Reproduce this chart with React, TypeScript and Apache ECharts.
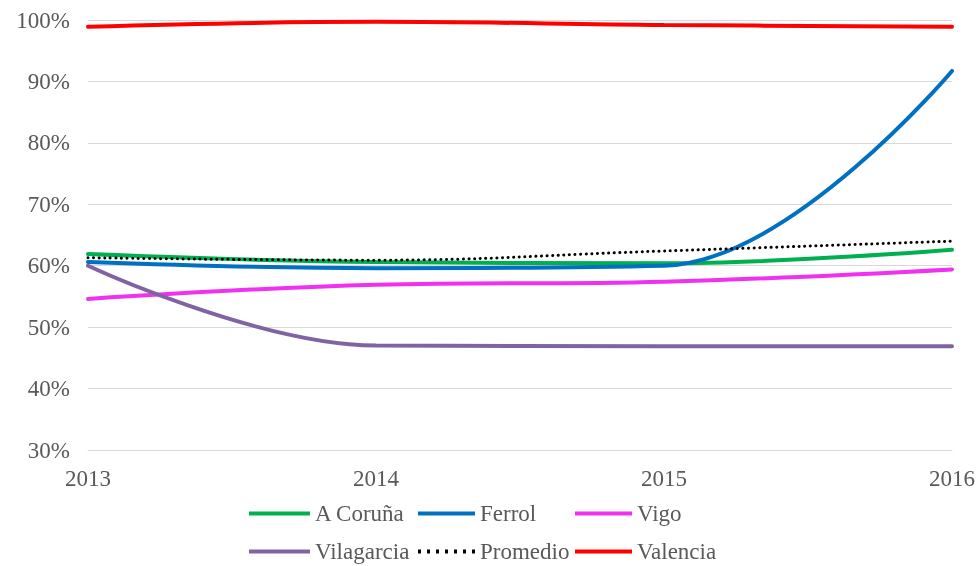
import React, { useEffect, useRef } from "react";
import * as echarts from "echarts";

const years = ["2013", "2014", "2015", "2016"];
const aCoruna = [61.9, 60.6, 60.4, 62.6];
const ferrol = [60.6, 59.6, 60.0, 91.7];
const vigo = [54.6, 56.9, 57.4, 59.4];
const vilagarcia = [60.0, 47.0, 46.9, 46.9];
const promedio = [61.3, 60.9, 62.4, 64.0];
const valencia = [98.9, 99.7, 99.2, 98.9];

const FONT = "Liberation Serif";
const DOTS = "path://M0,0h3v4h-3zM9,0h3v4h-3zM18,0h3v4h-3zM27,0h3v4h-3zM36,0h3v4h-3zM45,0h3v4h-3zM54,0h3v4h-3z";

export default function App() {
  const ref = useRef<HTMLDivElement>(null);
  useEffect(() => {
    if (!ref.current) return;
    const chart = echarts.init(ref.current, null, { renderer: "svg" });
    const mk = (name: string, data: number[], color: string, lineStyle: any = {}) => ({
      name,
      type: "line",
      data,
      smooth: 0.4,
      symbol: "none",
      lineStyle: { color, width: 4, cap: "round", ...lineStyle },
      itemStyle: { color },
    });
    const legendBase = {
      orient: "vertical",
      top: 502,
      padding: 0,
      itemWidth: 57,
      itemHeight: 4,
      itemGap: 15,
      icon: "rect",
      textStyle: { fontFamily: FONT, fontSize: 23, color: "#595959" },
    };
    chart.setOption({
      animation: false,
      textStyle: { fontFamily: FONT },
      grid: { left: 88, right: 26, top: 20, bottom: 116, containLabel: false },
      xAxis: {
        type: "category",
        data: years,
        boundaryGap: false,
        axisLine: { show: true, lineStyle: { color: "#d9d9d9" } },
        axisTick: { show: false },
        axisLabel: { fontFamily: FONT, fontSize: 23, color: "#595959", margin: 17 },
        splitLine: { show: false },
      },
      yAxis: {
        type: "value",
        min: 30,
        max: 100,
        interval: 10,
        axisLine: { show: false },
        axisTick: { show: false },
        axisLabel: {
          fontFamily: FONT,
          fontSize: 23,
          color: "#595959",
          margin: 18,
          formatter: (v: number) => v + "%",
        },
        splitLine: { lineStyle: { color: "#d9d9d9", width: 1 } },
      },
      legend: [
        { ...legendBase, left: 249, itemWidth: 61, data: ["A Coruña", "Vilagarcia"] },
        { ...legendBase, left: 418, data: ["Ferrol", { name: "Promedio", icon: DOTS }] },
        { ...legendBase, left: 575, data: ["Vigo", "Valencia"] },
      ],
      series: [
        mk("A Coruña", aCoruna, "#00B050"),
        mk("Ferrol", ferrol, "#0070C0"),
        mk("Vigo", vigo, "#F032F0"),
        mk("Vilagarcia", vilagarcia, "#8064A2"),
        mk("Promedio", promedio, "#000000", { width: 3, type: [0.1, 5.5], cap: "round" }),
        mk("Valencia", valencia, "#FF0000"),
      ],
    });
    return () => chart.dispose();
  }, []);
  return (
    <div
      ref={ref}
      style={{ position: "fixed", left: 0, top: 0, width: 978, height: 566 }}
    />
  );
}
